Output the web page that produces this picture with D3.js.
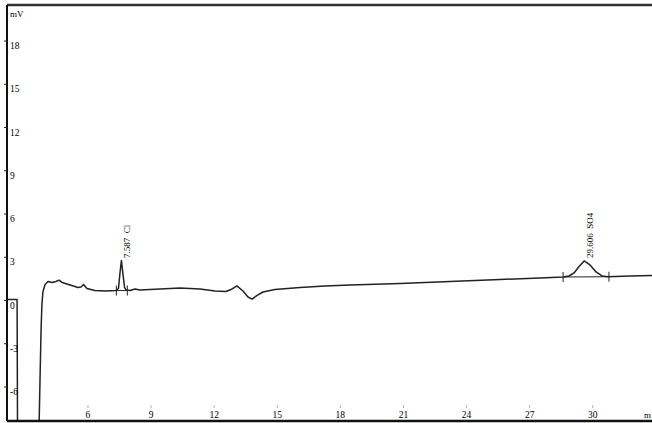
<html>
<head>
    <style>
        body { margin: 0; background: #fff; }
        svg text { font-family: "Liberation Serif", "DejaVu Serif", serif; fill: #000; }
        .trace { fill: none; stroke: #222; stroke-width: 1.5px; stroke-linejoin: round; }
        .frame { stroke: #111; stroke-width: 2px; }
        .mark { stroke: #222; stroke-width: 1px; }
    </style>
</head>
<body>
    <div id="container"></div>
    <script src="https://d3js.org/d3.v7.min.js"></script>
    <script>
        let width = 652,
            height = 423;

        // retention time (min) and signal (mV)
        let times = [2.15, 2.63, 2.65, 3.67, 3.72, 3.77, 3.81, 3.86, 3.96, 4.10, 4.29, 4.48, 4.62, 4.77, 5.15, 5.53, 5.67, 5.79, 5.95, 6.33,
            6.81, 7.33, 7.45, 7.52, 7.59, 7.66, 7.74, 7.81, 8.00, 8.24, 8.47, 9.43, 10.38, 11.33, 12.04, 12.56, 12.80, 13.08, 13.37, 13.61,
            13.80, 14.04, 14.32, 14.89, 16.08, 17.27, 18.46, 20.84, 23.21, 25.59, 27.49, 28.59, 28.87, 29.11, 29.35, 29.59, 29.87, 30.16,
            30.44, 30.73, 31.77, 32.96];
        let signal = [0.07, 0.07, -9, -9, -5.49, -2.01, -0.28, 0.63, 1.11, 1.32, 1.25, 1.32, 1.41, 1.25, 1.08, 0.90, 0.94, 1.11, 0.83, 0.69,
            0.66, 0.69, 0.83, 1.88, 2.78, 1.88, 0.90, 0.73, 0.69, 0.80, 0.73, 0.80, 0.87, 0.80, 0.66, 0.62, 0.76, 1.01, 0.66, 0.24,
            0.10, 0.35, 0.59, 0.76, 0.90, 1.01, 1.08, 1.18, 1.32, 1.46, 1.56, 1.63, 1.70, 1.91, 2.36, 2.74, 2.47, 1.98,
            1.70, 1.65, 1.70, 1.74];

        let peakNames = ['Cl', 'SO4'],
            peakTimes = [7.587, 29.606],
            peakStart = [7.35, 28.59],
            peakEnd = [7.87, 30.77],
            peakStartV = [0.69, 1.63],
            peakEndV = [0.69, 1.65];

        let xTicks = [6, 9, 12, 15, 18, 21, 24, 27, 30],
            yTicks = [18, 15, 12, 9, 6, 3, 0, -3, -6];

        let svg = d3.select('#container')
            .append('svg')
            .attr('width', width)
            .attr('height', height);

        let x = d3.scaleLinear().domain([2.15, 33.15]).range([7, 659]),
            y = d3.scaleLinear().domain([-6, 18]).range([387, 41]);

        let plotLeft = x.range()[0], plotTop = 5, plotBottom = 421;

        svg.append('defs').append('clipPath').attr('id', 'plot')
            .append('rect').attr('x', plotLeft).attr('y', plotTop).attr('width', width).attr('height', plotBottom - plotTop);

        // trace
        let line = d3.line()
            .x(function (d, i) { return x(times[i]); })
            .y(function (d) { return y(d); });
        svg.append('path')
            .datum(signal)
            .attr('class', 'trace')
            .attr('clip-path', 'url(#plot)')
            .attr('d', line);

        // peak start / end markers with baseline
        peakNames.forEach(function (n, i) {
            svg.append('line').attr('class', 'mark')
                .attr('x1', x(peakStart[i])).attr('x2', x(peakEnd[i]))
                .attr('y1', y(peakStartV[i])).attr('y2', y(peakEndV[i]));
            [[peakStart[i], peakStartV[i]], [peakEnd[i], peakEndV[i]]].forEach(function (p) {
                svg.append('line').attr('class', 'mark')
                    .attr('x1', x(p[0])).attr('x2', x(p[0]))
                    .attr('y1', y(p[1]) - 5).attr('y2', y(p[1]) + 5);
            });
            let px = x(peakTimes[i]) + 9, py = 258;
            svg.append('text')
                .attr('transform', 'translate(' + px + ',' + py + ') rotate(-90)')
                .attr('font-size', 9)
                .text(d3.format('.3f')(peakTimes[i]) + '\u00a0\u00a0' + n);
        });

        // frame
        svg.append('line').attr('class', 'frame').attr('x1', plotLeft).attr('x2', width).attr('y1', plotTop).attr('y2', plotTop).style('stroke', '#333').style('stroke-width', 2.5);
        svg.append('line').attr('class', 'frame').attr('x1', plotLeft).attr('x2', plotLeft).attr('y1', plotTop).attr('y2', plotBottom);
        svg.append('line').attr('class', 'frame').attr('x1', plotLeft).attr('x2', width).attr('y1', plotBottom).attr('y2', plotBottom).style('stroke-width', 2.5);

        // y axis ticks, labels inside
        let gy = svg.append('g');
        gy.selectAll('line').data(yTicks).enter().append('line')
            .attr('class', 'mark')
            .attr('x1', plotLeft - 3).attr('x2', plotLeft)
            .attr('y1', function (d) { return y(d); })
            .attr('y2', function (d) { return y(d); });
        gy.selectAll('text').data(yTicks).enter().append('text')
            .attr('x', plotLeft + 3)
            .attr('y', function (d) { return y(d) + 8; })
            .attr('font-size', 9.5)
            .text(function (d) { return d; });
        svg.append('text').attr('x', plotLeft + 3).attr('y', 17).attr('font-size', 9).text('mV');

        // x axis ticks, labels inside
        let gx = svg.append('g');
        gx.selectAll('line').data(xTicks).enter().append('line')
            .attr('class', 'mark')
            .attr('stroke-opacity', 0.35)
            .attr('x1', function (d) { return x(d); })
            .attr('x2', function (d) { return x(d); })
            .attr('y1', plotBottom - 16).attr('y2', plotBottom - 13);
        gx.selectAll('text').data(xTicks).enter().append('text')
            .attr('x', function (d) { return x(d); })
            .attr('y', plotBottom - 3)
            .attr('text-anchor', 'middle')
            .attr('font-size', 9.5)
            .text(function (d) { return d; });
        // unit label, cut by the edge in the source, only "m" shows
        svg.append('text').attr('x', 644).attr('y', plotBottom - 3).attr('font-size', 9).text('m');
    </script>
</body>
</html>
